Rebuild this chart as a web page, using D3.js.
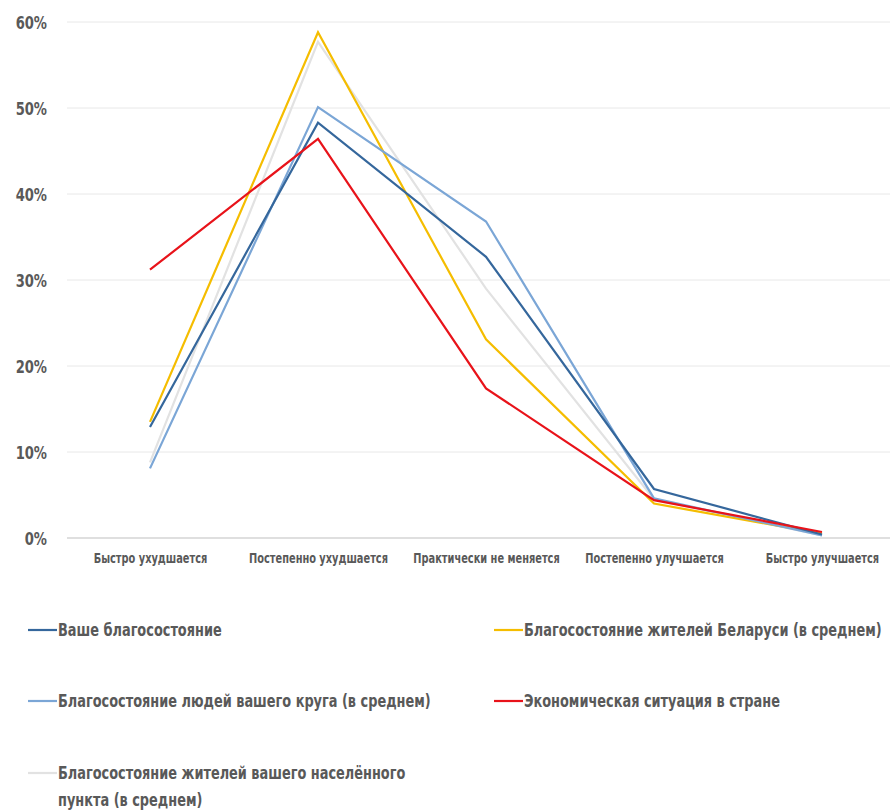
<!DOCTYPE html>
<html><head><meta charset="utf-8">
<script src="https://cdn.jsdelivr.net/npm/d3@7"></script>
<style>
body{margin:0;background:#fff;}
svg text{font-family:"Liberation Sans Narrow","DejaVu Sans Condensed","Roboto",sans-serif;font-weight:bold;fill:#595959;}
</style></head>
<body><svg id="c" width="890" height="812"></svg>
<script>
const categories = ["Быстро ухудшается","Постепенно ухудшается","Практически не меняется","Постепенно улучшается","Быстро улучшается"];
const yTicks = [0,10,20,30,40,50,60];
const seriesNames = ["Ваше благосостояние","Благосостояние жителей Беларуси (в среднем)","Благосостояние людей вашего круга (в среднем)","Экономическая ситуация в стране","Благосостояние жителей вашего населённого пункта (в среднем)"];
const seriesColors = ["#35679c","#f5bd00","#7ba6d6","#e8131a","#e2e2e2"];
const yours = [12.9,48.3,32.7,5.7,0.4];
const belarus = [13.5,58.8,23.1,4.0,0.5];
const circle = [8.1,50.1,36.8,4.6,0.3];
const economy = [31.2,46.4,17.4,4.4,0.7];
const locality = [8.8,57.7,29.0,4.5,0.3];
const seriesValues = [yours,belarus,circle,economy,locality];
const drawOrder = [4,1,2,0,3];

const svg = d3.select("#c");
const x = d3.scalePoint().domain(categories).range([66,906]).padding(0.5);
const y = d3.scaleLinear().domain([0,60]).range([538,22]);

// horizontally condense text (reference uses a condensed typeface)
function condense(sel, f){
  sel.each(function(){
    const t = d3.select(this);
    const tx = +t.attr("x") || 0, ty = +t.attr("y") || 0;
    t.attr("x",0).attr("y",0).attr("transform",`translate(${tx},${ty}) scale(${f},1)`);
  });
}
const F = 0.81;

// grid
svg.append("g").selectAll("line").data(yTicks).join("line")
  .attr("x1",67).attr("x2",890).attr("y1",d=>y(d)).attr("y2",d=>y(d))
  .attr("stroke",d=>d===0?"#d4d4d4":"#e8e8e8").attr("stroke-width",d=>d===0?1.5:1);

// y axis
const ya = svg.append("g").attr("transform","translate(47,0)")
  .call(d3.axisLeft(y).tickValues(yTicks).tickFormat(d=>d+"%").tickSize(0).tickPadding(0));
ya.select(".domain").remove();
ya.selectAll("text").style("font-size","18px").attr("dy","0.35em").call(condense,F);

// x axis
const xa = svg.append("g").attr("transform","translate(0,558)")
  .call(d3.axisBottom(x).tickSize(0).tickPadding(0));
xa.select(".domain").remove();
xa.selectAll("text").style("font-size","13.5px").attr("dy","0.35em").call(condense,F);

// lines
const line = d3.line().x((d,i)=>x(categories[i])).y(d=>y(d));
svg.append("g").selectAll("path").data(drawOrder).join("path")
  .attr("d",i=>line(seriesValues[i]))
  .attr("fill","none").attr("stroke",i=>seriesColors[i]).attr("stroke-width",2.2)
  .attr("stroke-linejoin","miter");

// legend
const FL = 0.797;
const legendPos = [[28,630],[494,630],[28,701],[494,701],[28,773]];
const lg = svg.append("g");
seriesNames.forEach((n,i)=>{
  const [lx,ly] = legendPos[i];
  lg.append("line").attr("x1",lx).attr("x2",lx+29).attr("y1",ly).attr("y2",ly)
    .attr("stroke",seriesColors[i]).attr("stroke-width",2.2);
  const t = lg.append("text").attr("transform",`translate(${lx+30},${ly}) scale(${FL},1)`)
    .attr("dy","0.35em").style("font-size","18px");
  if(i===4){
    t.append("tspan").attr("x",0).attr("dy","0.35em").text("Благосостояние жителей вашего населённого");
    t.append("tspan").attr("x",0).attr("dy","27px").text("пункта (в среднем)");
  } else {
    t.text(n);
  }
});
</script></body></html>
